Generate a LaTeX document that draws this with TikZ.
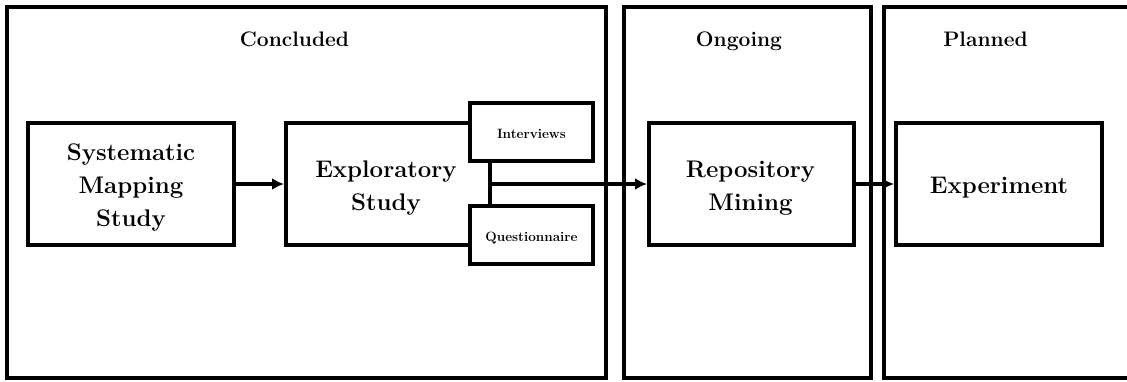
\documentclass[tikz,border=0pt]{standalone}
\usetikzlibrary{arrows.meta}
\begin{document}
\begin{tikzpicture}[x=1pt,y=-1pt,
  frame/.style={draw,line width=4pt,rectangle,inner sep=0pt},
  stagebox/.style={frame,fill=white,minimum width=#1,minimum height=122pt},
  stagetext/.style={font=\fontsize{24}{33}\selectfont\bfseries,align=center,inner sep=0pt,yshift=-4pt},
  subbox/.style={frame,fill=white,minimum width=123pt,minimum height=58pt},
  subtext/.style={font=\fontsize{13.5}{16}\selectfont\bfseries,inner sep=0pt},
  phase/.style={font=\fontsize{21}{25}\selectfont\bfseries,anchor=base,inner sep=0pt},
  flow/.style={line width=4pt,-{Latex[length=12pt,width=12pt]}}]
\useasboundingbox (0,0) rectangle (1127,381);
\clip (0,0) rectangle (1127,381);
% phase frames
\node[frame,minimum width=599.5pt,minimum height=371.5pt] (concluded) at (306.25,192.25) {};
\node[frame,minimum width=247pt,minimum height=371.5pt] (ongoing) at (747.5,192.25) {};
\node[frame,minimum width=256pt,minimum height=371.5pt] (planned) at (1012,192.25) {};
\node[phase] (tconcl) at (294.5,46.5) {Concluded};
\node[phase] (tongo) at (739,46.5) {Ongoing};
\node[phase] (tplan) at (985.5,46.5) {Planned};
% stages
\node[stagebox=206pt,label={[stagetext]center:Systematic\\Mapping\\Study}] (sms) at (131,184) {};
\node[stagebox=204pt,label={[stagetext,xshift=-2pt]center:Exploratory\\Study}] (exp) at (388,184) {};
\node[subbox,label={[subtext,yshift=-1.6pt]center:Interviews}] (intv) at (531.5,132) {};
\node[subbox,label={[subtext,yshift=-3pt]center:Questionnaire}] (quest) at (531.5,235) {};
\node[stagebox=205pt,label={[stagetext,xshift=-1pt]center:Repository\\Mining}] (repo) at (751.5,184) {};
\node[stagebox=206pt,label={[stagetext]center:Experiment}] (expt) at (999,184) {};
% connectors
\draw[flow] (sms.east) -- (exp.west);
\draw[flow] (exp.east) -- (repo.west);
\draw[flow] (repo.east) -- (expt.west);
\end{tikzpicture}
\end{document}
